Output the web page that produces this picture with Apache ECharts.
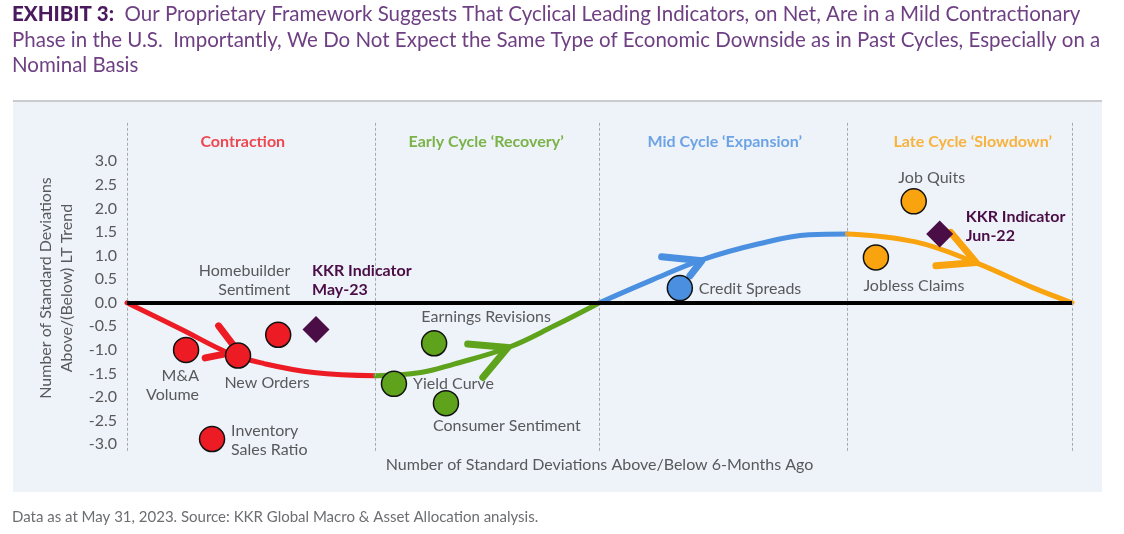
<!DOCTYPE html>
<html>
<head>
<meta charset="utf-8">
<script src="https://cdn.jsdelivr.net/npm/echarts@6/dist/echarts.min.js"></script>
<style>
  html, body { margin: 0; padding: 0; background: #ffffff; }
  #chart { width: 1124px; height: 534px; }
</style>
</head>
<body>
<div id="chart"></div>
<script>
// ---------------- DATA ----------------
const phaseBounds = [-2, -0.95, 0, 1.05, 2];
const phaseNames = ['Contraction', 'Early Cycle ‘Recovery’', 'Mid Cycle ‘Expansion’', 'Late Cycle ‘Slowdown’'];
const phaseLabelX = [-1.51, -0.48, 0.53, 1.58];
const phaseLabelY = [3.42, 3.42, 3.42, 3.42];

const yTickLabels = ['3.0', '2.5', '2.0', '1.5', '1.0', '0.5', '0.0', '-0.5', '-1.0', '-1.5', '-2.0', '-2.5', '-3.0'];

// cycle curve (x, y)
const contractionCurve = [[-2.0, 0], [-1.775, -0.55], [-1.563, -1.08], [-1.42, -1.29], [-1.21, -1.48], [-0.947, -1.55]];
const recoveryCurve = [[-0.947, -1.55], [-0.757, -1.48], [-0.616, -1.30], [-0.386, -0.95], [-0.191, -0.49], [0, 0]];
const expansionCurve = [[0, 0], [0.221, 0.48], [0.433, 0.91], [0.675, 1.25], [0.887, 1.44], [1.049, 1.46]];
const slowdownCurve = [[1.049, 1.46], [1.338, 1.29], [1.592, 0.85], [1.834, 0.32], [2.0, 0]];

// open arrow heads (arm end, tip, arm end)
const contractionArrow = [[-1.612, -0.49], [-1.53, -1.03], [-1.669, -1.17]];
const recoveryArrow = [[-0.558, -0.876], [-0.388, -0.947], [-0.494, -1.584]];
const expansionArrow = [[0.263, 0.975], [0.433, 0.89], [0.383, 0.572]];
const slowdownArrow = [[1.487, 1.49], [1.594, 0.854], [1.424, 0.784]];

// indicators
const contractionNames = ['M&A\nVolume', 'New Orders', 'Homebuilder\nSentiment', 'Inventory\nSales Ratio'];
const contractionX = [-1.75, -1.53, -1.36, -1.64];
const contractionY = [-1.00, -1.12, -0.68, -2.89];

const recoveryNames = ['Earnings Revisions', 'Yield Curve', 'Consumer Sentiment'];
const recoveryX = [-0.70, -0.87, -0.65];
const recoveryY = [-0.86, -1.72, -2.13];

const expansionNames = ['Credit Spreads'];
const expansionX = [0.34];
const expansionY = [0.31];

const slowdownNames = ['Job Quits', 'Jobless Claims'];
const slowdownX = [1.33, 1.17];
const slowdownY = [2.15, 0.96];

const kkrNames = ['KKR Indicator\nMay-23', 'KKR Indicator\nJun-22'];
const kkrX = [-1.20, 1.44];
const kkrY = [-0.57, 1.46];

// ---------------- STYLE ----------------
const RED = '#ed1c24', GREEN = '#5ea31b', BLUE = '#4b8fe0', ORANGE = '#f9a30f', PURPLE = '#4a0d46';
const GREY = '#58595b';
const FONT = 'Lato';

const labelPlacement = {
  'M&A\nVolume': { align: 'right', offset: [13, 35] },
  'New Orders': { align: 'center', offset: [29, 27] },
  'Homebuilder\nSentiment': { align: 'right', offset: [12, -54] },
  'Inventory\nSales Ratio': { align: 'left', offset: [19, 1] },
  'Earnings Revisions': { align: 'center', offset: [52, -26] },
  'Yield Curve': { align: 'left', offset: [19, 0] },
  'Consumer Sentiment': { align: 'left', offset: [-13, 23] },
  'Credit Spreads': { align: 'left', offset: [19, 1] },
  'Job Quits': { align: 'center', offset: [18, -24] },
  'Jobless Claims': { align: 'center', offset: [38, 28] },
  'KKR Indicator\nMay-23': { align: 'left', offset: [-4, -49] },
  'KKR Indicator\nJun-22': { align: 'left', offset: [26, -8] }
};

function curveSeries(name, data, color) {
  return {
    name, type: 'line', data, smooth: 0.4, symbol: 'none', z: 3,
    lineStyle: { color, width: 5, cap: 'round' }, silent: true
  };
}
function arrowSeries(name, data, color) {
  return {
    name, type: 'line', data, smooth: false, symbol: 'none', z: 3,
    lineStyle: { color, width: 7, cap: 'round', join: 'round' }, silent: true
  };
}
function pointSeries(name, names, xs, ys, color, symbol, size, bold) {
  return {
    name, type: 'scatter', z: 6, symbol, symbolSize: size,
    itemStyle: { color, borderColor: bold ? color : '#111', borderWidth: bold ? 0 : 1.5, opacity: 1 },
    data: names.map((n, i) => {
      const p = labelPlacement[n];
      return {
        name: n, value: [xs[i], ys[i]],
        label: {
          show: true, position: 'inside', formatter: n, align: p.align, verticalAlign: 'middle',
          offset: p.offset, fontFamily: FONT, fontSize: 16, lineHeight: 19,
          fontWeight: bold ? 'bold' : 'normal', color: bold ? PURPLE : GREY
        }
      };
    })
  };
}

const option = {
  animation: false,
  backgroundColor: '#ffffff',
  graphic: [
    { type: 'rect', z: -10, shape: { x: 13, y: 101, width: 1089, height: 391 }, style: { fill: '#eef3fa' } },
    { type: 'line', z: -9, shape: { x1: 13, y1: 101, x2: 1102, y2: 101 }, style: { stroke: '#c9cbcf', lineWidth: 2 } },
    {
      type: 'text', left: 12, top: 2,
      style: {
        text: '{b|EXHIBIT 3:}  Our Proprietary Framework Suggests That Cyclical Leading Indicators, on Net, Are in a Mild Contractionary\n' +
              'Phase in the U.S.  Importantly, We Do Not Expect the Same Type of Economic Downside as in Past Cycles, Especially on a\n' +
              'Nominal Basis',
        font: '20.5px ' + FONT, fill: '#6e3f82', lineHeight: 25.5,
        rich: { b: { font: '900 20.5px ' + FONT, fill: '#4b1a5e', lineHeight: 25.5 } }
      }
    },
    {
      type: 'text', left: 12, top: 510,
      style: { text: 'Data as at May 31, 2023. Source: KKR Global Macro & Asset Allocation analysis.', font: '15px ' + FONT, fill: '#6d6e71' }
    }
  ],
  grid: { left: 127, right: 52, top: 120, bottom: 78, containLabel: false },
  xAxis: {
    type: 'value', min: -2, max: 2,
    axisLine: { show: false }, axisTick: { show: false }, axisLabel: { show: false }, splitLine: { show: false },
    name: 'Number of Standard Deviations Above/Below 6-Months Ago', nameLocation: 'middle', nameGap: 1,
    nameTextStyle: { fontFamily: FONT, fontSize: 16, color: GREY }
  },
  yAxis: {
    type: 'value', min: -3.25, max: 3.875, interval: 0.25,
    axisLine: { show: false }, axisTick: { show: false }, splitLine: { show: false },
    axisLabel: {
      margin: 10, fontFamily: FONT, fontSize: 16, color: GREY,
      formatter: v => {
        const s = (Math.round(v * 100) / 100).toFixed(1);
        return (Math.abs(v * 2 - Math.round(v * 2)) < 1e-6 && yTickLabels.indexOf(s) >= 0) ? s : '';
      }
    },
    name: 'Number of Standard Deviations\nAbove/(Below) LT Trend', nameLocation: 'middle', nameGap: 40, nameRotate: 90,
    nameTextStyle: { fontFamily: FONT, fontSize: 16, color: GREY, lineHeight: 21 }
  },
  series: [
    {
      name: 'frame', type: 'line', data: [], z: 1, silent: true,
      markLine: {
        silent: true, symbol: 'none', animation: false, label: { show: false },
        data: phaseBounds.map(b => [
          { coord: [b, -3.14], lineStyle: { type: [3, 2], color: '#a7a9ac', width: 1 } },
          { coord: [b, 3.86] }
        ]).concat([[
          { coord: [phaseBounds[0], 0], lineStyle: { type: 'solid', color: '#000000', width: 4 } },
          { coord: [phaseBounds[phaseBounds.length - 1], 0] }
        ]])
      }
    },
    {
      name: 'phases', type: 'scatter', symbolSize: 1, itemStyle: { color: 'transparent' }, silent: true, z: 4,
      data: phaseNames.map((n, i) => ({
        name: n, value: [phaseLabelX[i], phaseLabelY[i]],
        label: {
          show: true, position: 'inside', formatter: n, fontFamily: FONT, fontSize: 16, fontWeight: 'bold',
          color: [RED, GREEN, BLUE, ORANGE][i]
        }
      }))
    },
    curveSeries('contractionCurve', contractionCurve, RED),
    curveSeries('recoveryCurve', recoveryCurve, GREEN),
    curveSeries('expansionCurve', expansionCurve, BLUE),
    curveSeries('slowdownCurve', slowdownCurve, ORANGE),
    arrowSeries('contractionArrow', contractionArrow, RED),
    arrowSeries('recoveryArrow', recoveryArrow, GREEN),
    arrowSeries('expansionArrow', expansionArrow, BLUE),
    arrowSeries('slowdownArrow', slowdownArrow, ORANGE),
    pointSeries('Contraction', contractionNames, contractionX, contractionY, RED, 'circle', 25, false),
    pointSeries('Recovery', recoveryNames, recoveryX, recoveryY, GREEN, 'circle', 25, false),
    pointSeries('Expansion', expansionNames, expansionX, expansionY, BLUE, 'circle', 25, false),
    pointSeries('Slowdown', slowdownNames, slowdownX, slowdownY, ORANGE, 'circle', 25, false),
    pointSeries('KKR Indicator', kkrNames, kkrX, kkrY, PURPLE, 'diamond', 27, true)
  ]
};

const chart = echarts.init(document.getElementById('chart'), null, { renderer: 'canvas' });
chart.setOption(option);
</script>
</body>
</html>
